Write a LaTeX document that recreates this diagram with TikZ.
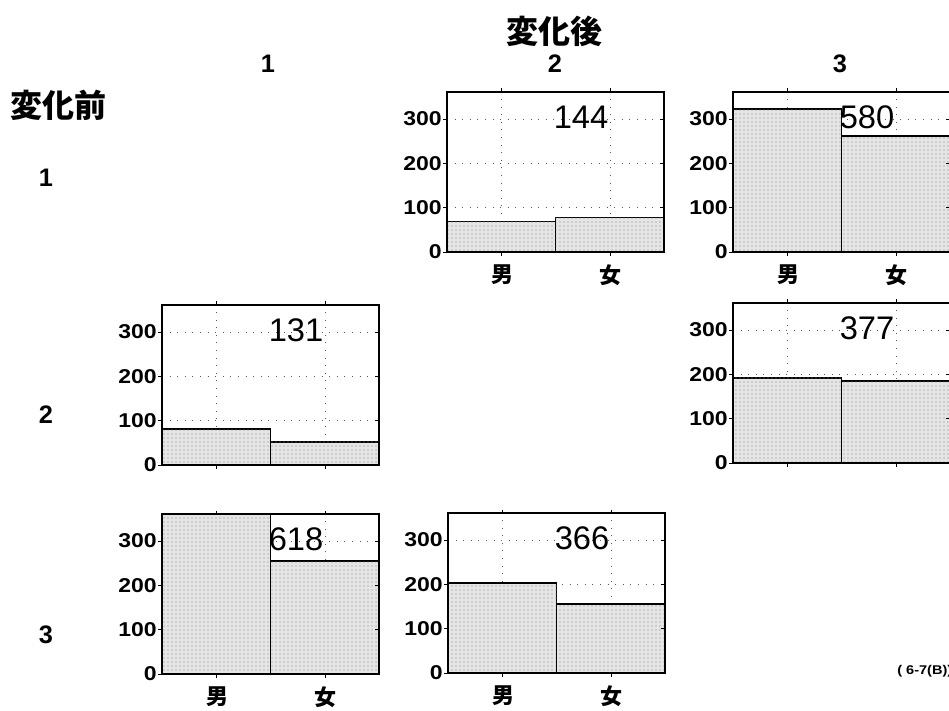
\documentclass[tikz,border=0pt]{standalone}
\usepackage{fontspec}
\setmainfont{Liberation Sans}
\newfontfamily\jpfont{Noto Sans CJK JP}
\newfontfamily\tickfont[FakeStretch=1.15]{Liberation Sans}
\usetikzlibrary{patterns}

\tikzset{
	frame/.style={draw=black, line width=1.1pt},
	barbox/.style={draw=black, line width=1.1pt, fill=black!10, postaction={pattern=dots, pattern color=black!50}},
	grid dots/.style={draw=black!65, line width=0.7pt, dash pattern=on 0.7pt off 5pt},
	tickmark/.style={draw=black, line width=0.7pt},
	ticklabel/.style={anchor=east, inner sep=0pt, font=\tickfont\bfseries\fontsize{15}{15}\selectfont},
	total/.style={inner sep=0pt, font=\fontsize{24.5}{24.5}\selectfont},
	cat/.style={inner sep=0pt, font=\jpfont\bfseries\fontsize{16.5}{16.5}\selectfont},
	heading/.style={inner sep=0pt, font=\jpfont\bfseries\fontsize{24}{24}\selectfont},
	num/.style={inner sep=0pt, font=\bfseries\fontsize{19}{19}\selectfont},
}

% name, left x, zero y, male, female, total, show categories
\newcommand\mosaicpanel[7]{
	\begin{scope}[shift={(#2,#3)}, y=0.3323pt]
		\foreach \v in {100,200,300} \draw[grid dots] (0,\v) -- (217,\v);
		\foreach \c in {54,163} \draw[grid dots] (\c,0) -- (\c,361);
		\draw[barbox] (0,0) rectangle (108.5,#4);
		\draw[barbox] (108.5,0) rectangle (217,#5);
		\draw[frame] (0,0) rectangle (217,361);
		\foreach \v in {0,100,200,300} {
			\draw[tickmark] (0,\v) -- (-4,\v);
			\node[ticklabel] (#1-y\v) at (-5,\v) {\v};
		}
		\foreach \v in {100,200,300} \draw[tickmark] (217,\v) -- (213,\v);
		\foreach \c in {54,163} {
			\draw[tickmark] (\c,0) -- (\c,-8);
			\draw[tickmark] (\c,361) -- (\c,369);
		}
		\node[total] (#1-total) at (134,305) {#6};
		\ifnum#7=1
			\node[cat] (#1-m) at (55,-52) {男};
			\node[cat] (#1-f) at (163,-52) {女};
		\fi
	\end{scope}
}

\begin{document}
\begin{tikzpicture}[x=0.75pt, y=0.75pt]
	\useasboundingbox (0,0) rectangle (949,710);
	\clip (0,0) rectangle (949,710);
	
	\node[heading] (after) at (554,679) {変化後};
	\node[heading] (before) at (58,605) {変化前};
	
	\node[num] (col1) at (268,646) {1};
	\node[num] (col2) at (555,646) {2};
	\node[num] (col3) at (840,646) {3};
	
	\node[num] (row1) at (46,532) {1};
	\node[num] (row2) at (46,295) {2};
	\node[num] (row3) at (46,75) {3};
	
	\mosaicpanel{p12}{447}{458}{69}{78}{144}{1}
	\mosaicpanel{p13}{733}{458}{323}{262}{580}{1}
	\mosaicpanel{p21}{162}{245}{81}{52}{131}{0}
	\mosaicpanel{p23}{733}{247}{192}{185}{377}{0}
	\mosaicpanel{p31}{162}{36}{361}{255}{618}{1}
	\mosaicpanel{p32}{448}{37}{203}{156}{366}{1}
	
	\node[anchor=west, inner sep=0pt, font=\tickfont\bfseries\fontsize{9.5}{9.5}\selectfont] (source) at (897,39) {( 6-7(B))};
	
\end{tikzpicture}
\end{document}
